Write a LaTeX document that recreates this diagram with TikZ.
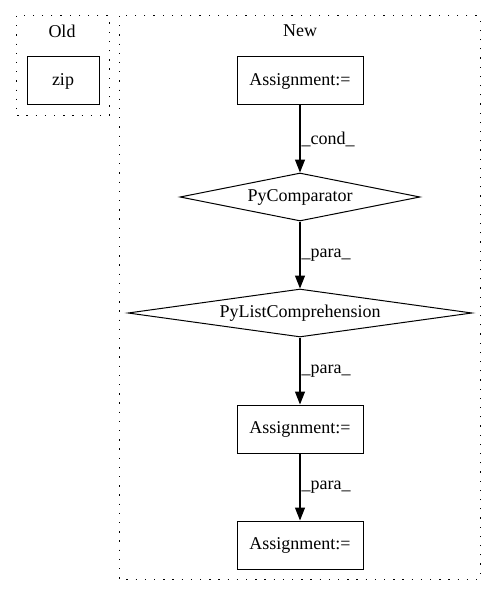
\documentclass[tikz,border=0pt]{standalone}
\usepackage{fontspec}
\setmainfont{Liberation Serif}
\usetikzlibrary{shapes.geometric, arrows.meta}

\tikzset{
  box/.style={draw, line width=1pt, rectangle, minimum width=126pt, minimum height=48pt, inner sep=0pt, font=\fontsize{18}{20}\selectfont},
  cond/.style={draw, line width=1pt, diamond, minimum height=48pt, inner sep=0pt, font=\fontsize{18}{20}\selectfont},
  flow/.style={-{Triangle[length=13pt,width=10pt]}, line width=1.1pt},
  lab/.style={midway, anchor=west, inner sep=1pt, font=\fontsize{18}{20}\selectfont},
  cluster/.style={line width=1pt, dash pattern=on 1.3pt off 7.9pt},
}

\begin{document}
\begin{tikzpicture}[x=1pt, y=-1pt]
            \useasboundingbox (0, 0) rectangle (496, 596);

            % clusters
            \draw[cluster] (16, 16) rectangle (109, 116);
            \draw[cluster] (119, 16) rectangle (480, 579);
            \node[font=\fontsize{18}{20}\selectfont] (oldlbl) at (62, 31) {Old};
            \node[font=\fontsize{18}{20}\selectfont] (newlbl) at (300, 31) {New};

            % nodes
            \node[box, minimum width=72pt] (zip) at (63, 81) {zip};
            \node[box] (asg1) at (300, 81) {Assignment:=};
            \node[cond, minimum width=240pt, aspect=5] (cmp) at (300, 197) {PyComparator};
            \node[cond, minimum width=344pt, aspect=7.2] (lcomp) at (300, 313) {PyListComprehension};
            \node[box] (asg2) at (300, 429) {Assignment:=};
            \node[box] (asg3) at (300, 545) {Assignment:=};

            % edges
            \draw[flow] (asg1) -- (cmp) node[lab] {\_cond\_};
            \draw[flow] (cmp) -- (lcomp) node[lab] {\_para\_};
            \draw[flow] (lcomp) -- (asg2) node[lab] {\_para\_};
            \draw[flow] (asg2) -- (asg3) node[lab] {\_para\_};
\end{tikzpicture}
\end{document}
